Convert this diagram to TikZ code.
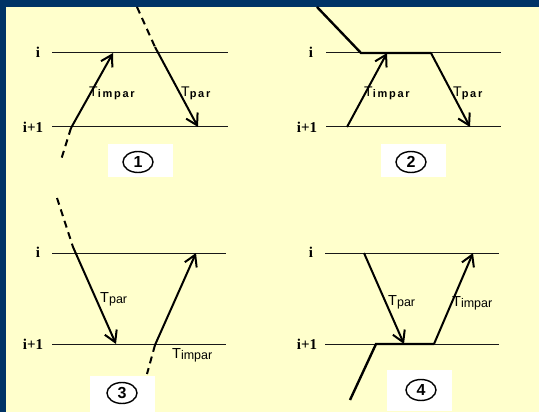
\documentclass[tikz,border=0pt]{standalone}
\usepackage{fontspec}
\setmainfont{Liberation Serif}
\setsansfont{Liberation Sans}
\newfontfamily\lspfont[LetterSpace=16]{Liberation Sans}
\usetikzlibrary{arrows.meta,shapes.geometric}
\definecolor{frameblue}{RGB}{0,51,102}
\definecolor{paper}{RGB}{255,255,204}
\newcommand\tlabsp[1]{{\sffamily\fontsize{14}{14}\selectfont T}\raisebox{-1pt}{\lspfont\bfseries\fontsize{11}{11}\selectfont #1}}
\newcommand\tlab[1]{{\sffamily\fontsize{14.5}{14.5}\selectfont T}\raisebox{-1.5pt}{\sffamily\fontsize{12.5}{12.5}\selectfont #1}}
\tikzset{
  level/.style={draw=black!90, line width=1pt},
  trans/.style={line width=2pt, -{Straight Barb[length=11pt,width=13pt]}},
  dashpart/.style={line width=2pt, dash pattern=on 7pt off 5pt},
  thickpath/.style={line width=2.4pt, line join=miter},
  lvl/.style={font=\fontsize{15}{15}\selectfont\bfseries, inner sep=0pt},
  tl/.style={anchor=base west, inner sep=0pt},
  whitebox/.style={fill=white, draw=none, inner sep=0pt},
  circ/.style={ellipse, draw, line width=1.4pt, minimum width=30pt, minimum height=21pt, inner sep=0pt, font=\sffamily\bfseries\fontsize{16}{16}\selectfont}
}
\begin{document}
\begin{tikzpicture}[x=1pt,y=-1pt]
\fill[frameblue] (0,0) rectangle (539,412);
\fill[paper] (6,7) rectangle (539,412);
\useasboundingbox (0,0) rectangle (539,412);

% ---------- panel 1 ----------
\node[lvl] (p1i) at (38,52) {i};
\node[lvl] (p1j) at (33,127) {i+1};
\coordinate (p1ia) at (52,53); \coordinate (p1ib) at (228,53);
\coordinate (p1ja) at (52,127); \coordinate (p1jb) at (228,127);
\draw[level] (p1ia) -- (p1ib);
\draw[level] (p1ja) -- (p1jb);
\coordinate (p1a) at (71,128); \coordinate (p1b) at (113,53);
\coordinate (p1d) at (61,160);
\draw[trans] (p1a) -- (p1b);
\draw[dashpart] (p1a) -- (p1d);
\coordinate (p1t) at (137,7); \coordinate (p1s) at (155,47); \coordinate (p1e) at (198,127);
\draw[dashpart] (p1t) -- (p1s);
\draw[trans] (p1s) -- (p1e);
\node[tl] (p1l1) at (89,97) {\tlabsp{impar}};
\node[tl] (p1l2) at (181,97) {\tlabsp{par}};
\node[whitebox, minimum width=65pt, minimum height=33pt] (p1box) at (140.5,160.5) {};
\node[circ] (p1c) at (138,162) {1};

% ---------- panel 2 ----------
\node[lvl] (p2i) at (311,52) {i};
\node[lvl] (p2j) at (307,127) {i+1};
\coordinate (p2ia) at (326,53); \coordinate (p2ib) at (501,53);
\coordinate (p2ja) at (326,127); \coordinate (p2jb) at (501,127);
\draw[level] (p2ia) -- (p2ib);
\draw[level] (p2ja) -- (p2jb);
\coordinate (p2t) at (317,7); \coordinate (p2u) at (361,53);
\coordinate (p2v) at (431,53); \coordinate (p2e) at (470,127);
\draw[thickpath] (p2t) -- (p2u) -- (p2v);
\draw[trans] (p2v) -- (p2e);
\coordinate (p2a) at (347,127); \coordinate (p2b) at (387,53);
\draw[trans] (p2a) -- (p2b);
\node[tl] (p2l1) at (364,97) {\tlabsp{impar}};
\node[tl] (p2l2) at (453,97) {\tlabsp{par}};
\node[whitebox, minimum width=65pt, minimum height=33pt] (p2box) at (413.5,160.5) {};
\node[circ] (p2c) at (411,162) {2};

% ---------- panel 3 ----------
\node[lvl] (p3i) at (38,252) {i};
\node[lvl] (p3j) at (33,344) {i+1};
\coordinate (p3ia) at (52,253); \coordinate (p3ib) at (226,253);
\coordinate (p3ja) at (52,344); \coordinate (p3jb) at (226,344);
\draw[level] (p3ia) -- (p3ib);
\draw[level] (p3ja) -- (p3jb);
\coordinate (p3t) at (57,198); \coordinate (p3s) at (73,247); \coordinate (p3e) at (116,344);
\draw[dashpart] (p3t) -- (p3s);
\draw[trans] (p3s) -- (p3e);
\coordinate (p3a) at (155,345); \coordinate (p3b) at (196,253); \coordinate (p3d) at (147,374);
\draw[trans] (p3a) -- (p3b);
\draw[dashpart] (p3a) -- (p3d);
\node[tl] (p3l1) at (100,302) {\tlab{par}};
\node[tl] (p3l2) at (172,358) {\tlab{impar}};
\node[whitebox, minimum width=65pt, minimum height=36pt] (p3box) at (122.5,394) {};
\node[circ] (p3c) at (122,393) {3};

% ---------- panel 4 ----------
\node[lvl] (p4i) at (311,252) {i};
\node[lvl] (p4j) at (307,344) {i+1};
\coordinate (p4ia) at (325,253); \coordinate (p4ib) at (499,253);
\coordinate (p4ja) at (325,344); \coordinate (p4jb) at (499,344);
\draw[level] (p4ia) -- (p4ib);
\draw[level] (p4ja) -- (p4jb);
\coordinate (p4s) at (364,253); \coordinate (p4e) at (404,344);
\draw[trans] (p4s) -- (p4e);
\coordinate (p4a) at (434,344); \coordinate (p4b) at (473,253);
\draw[trans] (p4a) -- (p4b);
\coordinate (p4t) at (350,400); \coordinate (p4u) at (376,344);
\draw[thickpath] (p4t) -- (p4u) -- (p4a);
\node[tl] (p4l1) at (388,305) {\tlab{par}};
\node[tl] (p4l2) at (452,306) {\tlab{impar}};
\node[whitebox, minimum width=65pt, minimum height=41pt] (p4box) at (419.5,390.5) {};
\node[circ] (p4c) at (421,390) {4};
\end{tikzpicture}
\end{document}
